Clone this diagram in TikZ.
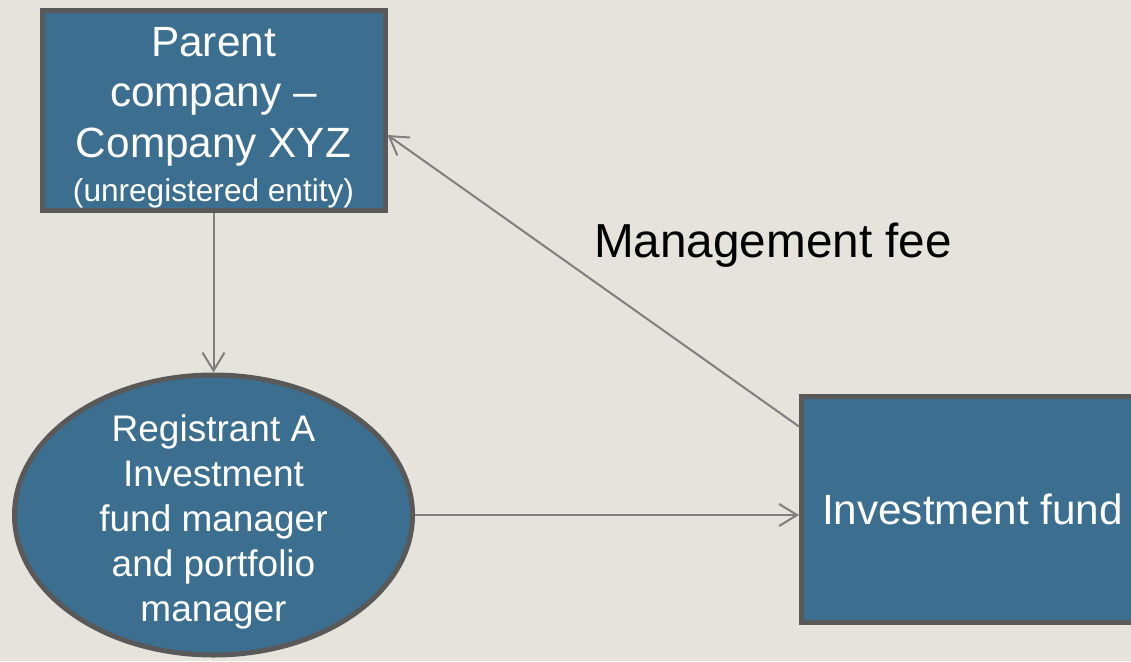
\documentclass[tikz,border=0pt]{standalone}
\usepackage{fontspec}
\setmainfont{Liberation Sans}
\usetikzlibrary{arrows.meta,shapes.geometric}

\definecolor{paper}{HTML}{E6E3DC}
\definecolor{boxfill}{HTML}{3B6E8F}
\definecolor{boxline}{HTML}{595959}
\definecolor{linkgrey}{HTML}{7F7F7F}

\begin{document}
\begin{tikzpicture}[x=0.5pt,y=-0.5pt,
		entity/.style={draw=boxline,line width=2.5pt,fill=boxfill,text=white,align=center,inner sep=0pt},
		inner/.style={text=white,align=center,inner sep=0pt},
		link/.style={draw=linkgrey,line width=1pt,-{Straight Barb[length=9pt,width=11pt]}}]
	\fill[paper] (0,0) rectangle (1131,661);
	\useasboundingbox (0,0) rectangle (1131,661);
	% the three parties
	\node[entity,minimum width=171.5pt,minimum height=100pt] (parent) at (213.5,110.5) {};
	\node[inner,font=\fontsize{21.15}{25.25}\selectfont] (parenttext) at ([yshift=-3.5pt]parent)
		{Parent\\company --\\Company XYZ\\[-3pt]{\fontsize{15.8}{19}\selectfont(unregistered entity)}};
	\node[entity,ellipse,minimum width=199pt,minimum height=140pt] (registrant) at (213.5,515) {};
	\node[inner,font=\fontsize{18.5}{22.5}\selectfont] (registranttext) at ([yshift=-3.5pt]registrant)
		{Registrant A\\Investment\\fund manager\\and portfolio\\manager};
	\node[entity,minimum width=171pt,minimum height=113pt,font=\fontsize{21.15}{25.25}\selectfont] (fund) at (972.5,509.5) {Investment fund};
	\node[font=\fontsize{23.85}{28.6}\selectfont,inner sep=0pt] (fee) at (773,245) {Management fee};
	% flows
	\draw[link] (parent) to (registrant);
	\draw[link] (registrant.east) to (registrant.east -| fund.west);
	\draw[link] ([yshift=-16.25pt]fund.north west) to ([yshift=-12.25pt]parent.east);
\end{tikzpicture}
\end{document}
